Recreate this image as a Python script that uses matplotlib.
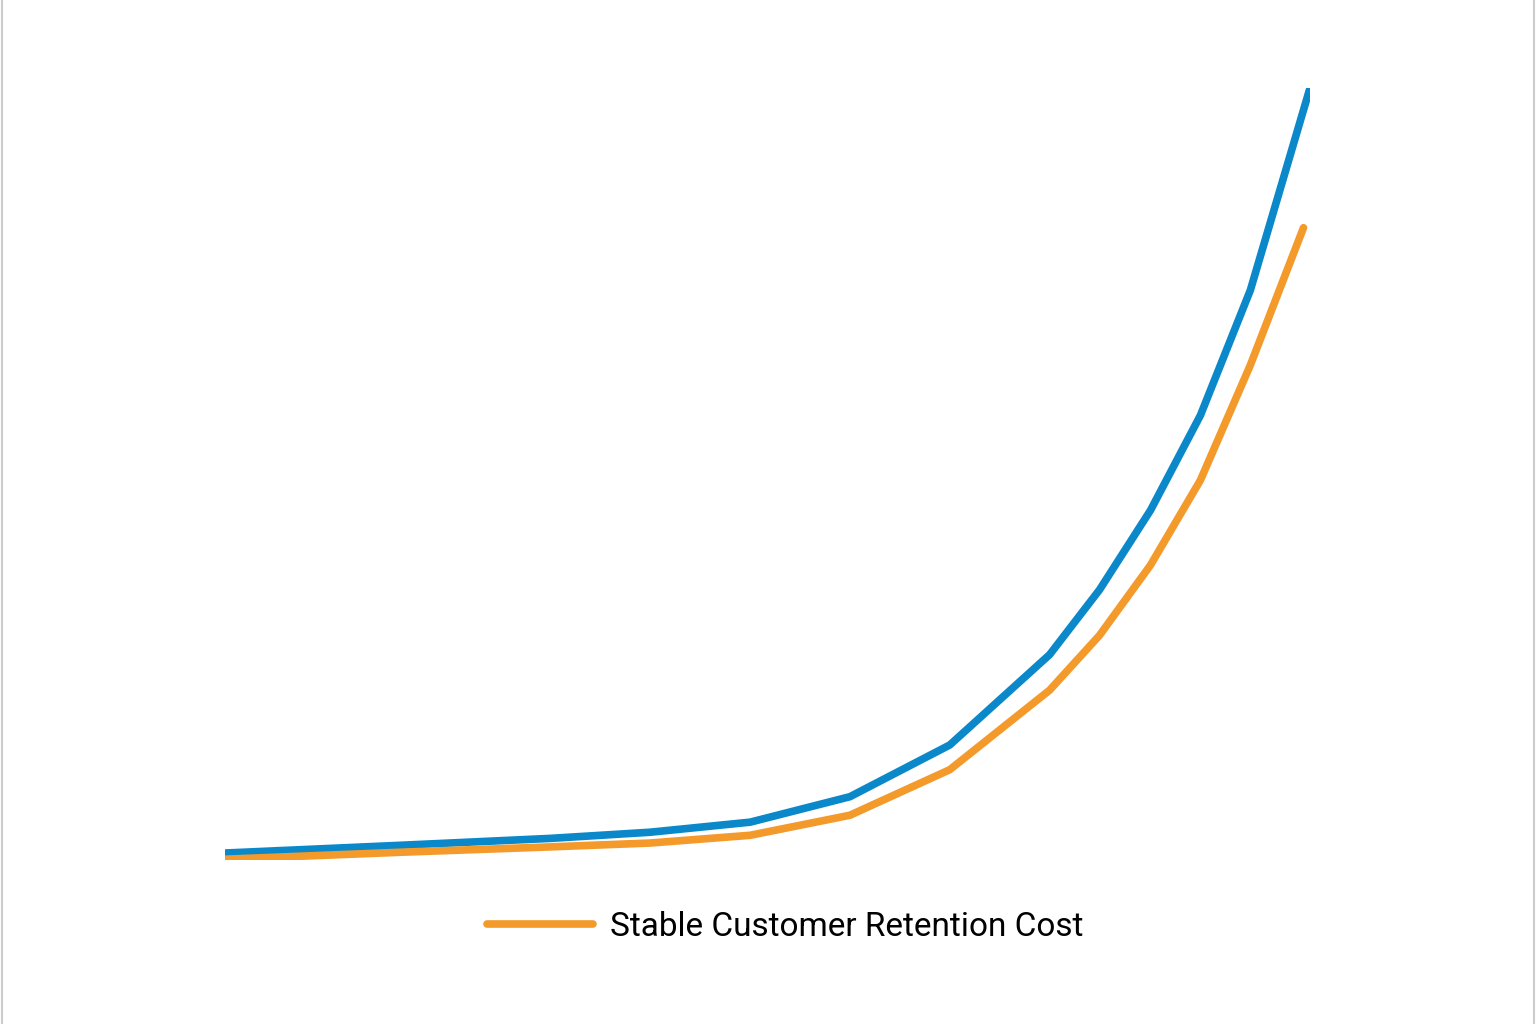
import matplotlib
matplotlib.use("Agg")
import matplotlib.pyplot as plt
from matplotlib.lines import Line2D

period = [0, 16.1, 30.0, 39.2, 48.4, 57.6, 66.8, 76.0, 80.6, 85.3, 89.9, 94.5, 100]
growing_cost = [0.9, 1.9, 2.8, 3.6, 4.9, 8.2, 14.9, 26.6, 35.0, 45.3, 57.6, 73.8, 100]
period_stable = [0, 16.1, 30.0, 39.2, 48.4, 57.6, 66.8, 76.0, 80.6, 85.3, 89.9, 94.5, 99.4]
stable_cost = [0.1, 1.0, 1.7, 2.2, 3.2, 5.8, 11.7, 22.0, 29.1, 38.2, 49.2, 64.1, 81.9]

plt.rcParams["font.family"] = ["Roboto", "DejaVu Sans"]
fig = plt.figure(figsize=(15.36, 10.24), dpi=100)
ax = fig.add_axes([225 / 1536, (1024 - 860) / 1024, 1085 / 1536, 772 / 1024])
ax.plot(period, growing_cost, color="#0a88c9", lw=5.5, solid_capstyle="round", solid_joinstyle="round")
ax.plot(period_stable, stable_cost, color="#f39a2b", lw=5.5, solid_capstyle="round", solid_joinstyle="round")
ax.set_xlim(0, 100); ax.set_ylim(0, 100)
ax.axis("off")

handle = Line2D([], [], color="#f39a2b", lw=5.5, solid_capstyle="round")
fig.legend([handle], ["Stable Customer Retention Cost"], loc="center", bbox_to_anchor=(785 / 1536, 1 - 927 / 1024),
           frameon=False, fontsize=24, handlelength=3.2, handletextpad=0.5)

for x in (0.001, 0.999):
    fig.add_artist(Line2D([x, x], [0, 1], color="#cccccc", lw=1.5, transform=fig.transFigure))
fig.savefig("out.png", dpi=100)
